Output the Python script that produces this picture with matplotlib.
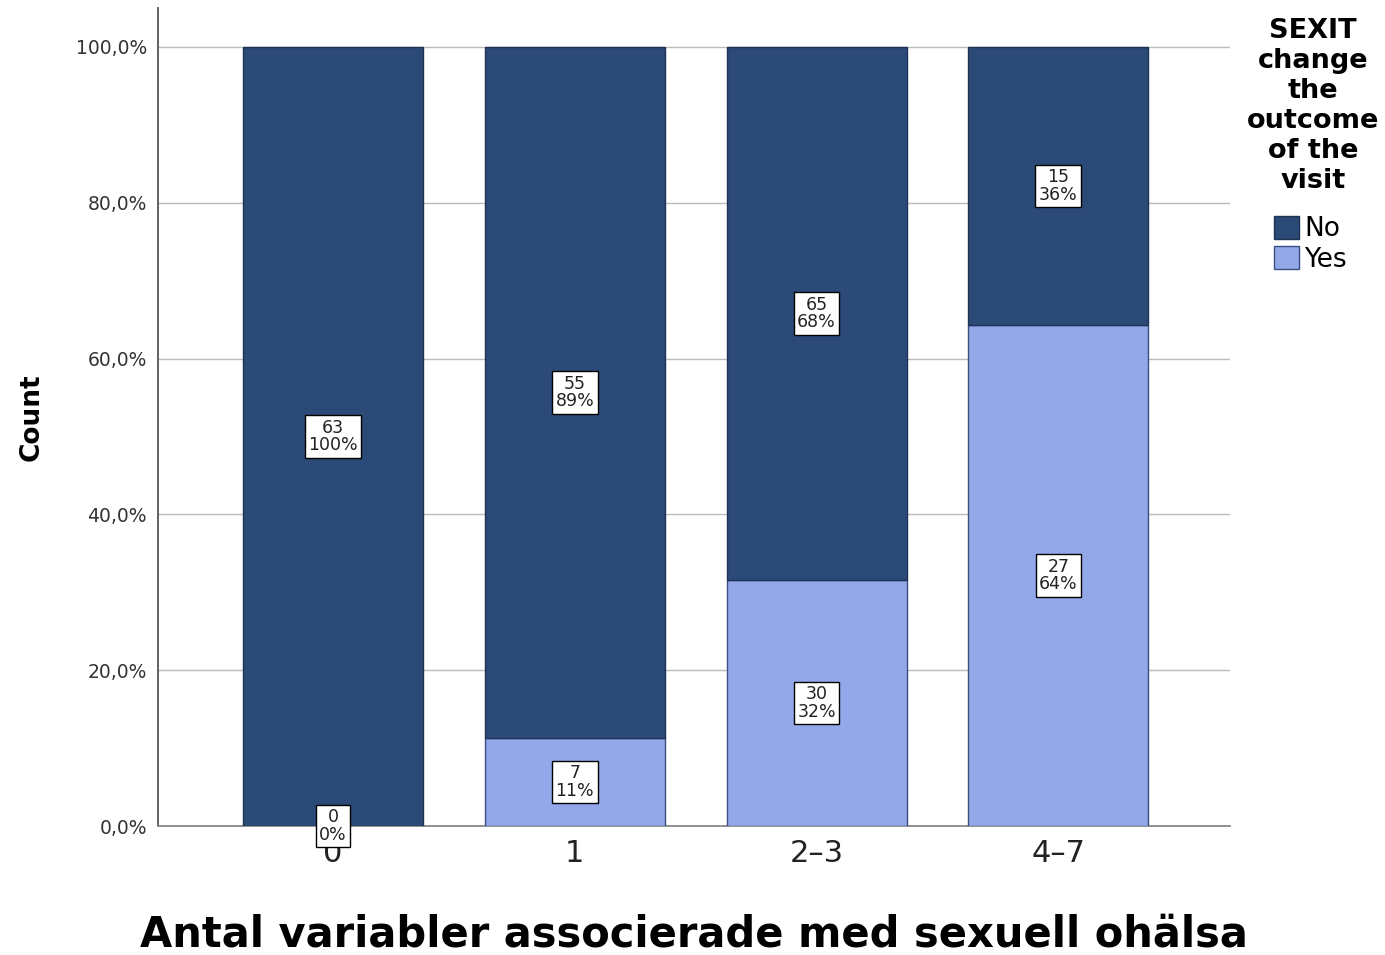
import numpy as np
import matplotlib
matplotlib.use('Agg')
import matplotlib.pyplot as plt
from matplotlib.patches import Patch

categories = ['0', '1', '2\u20133', '4\u20137']
count_no  = [63, 55, 65, 15]
count_yes = [0, 7, 30, 27]
pct_no  = [100, 89, 68, 36]
pct_yes = [0, 11, 32, 64]

col_no  = '#2b4a78'
col_yes = '#92a8e8'

no = np.array(count_no, dtype=float)
yes = np.array(count_yes, dtype=float)
total = no + yes
share_yes = yes / total * 100
share_no = no / total * 100

fig = plt.figure(figsize=(13.85, 9.55), dpi=100)
ax = fig.add_axes([158/1385, 1 - 826/955, (1230-158)/1385, (826-8)/955])

x = np.arange(len(categories))
w = 0.745
ax.bar(x, share_yes, w, color=col_yes, edgecolor='#3a4f80', linewidth=1.0, zorder=3)
ax.bar(x, share_no, w, bottom=share_yes, color=col_no, edgecolor='#1e3354', linewidth=1.0, zorder=3)

box = dict(boxstyle='square,pad=0.2', facecolor='white', edgecolor='black', linewidth=1.0)
for i in range(len(categories)):
    ax.text(x[i], share_yes[i] + share_no[i] / 2, '%d\n%d%%' % (count_no[i], pct_no[i]),
            ha='center', va='center', fontsize=12.5, linespacing=0.95, bbox=box, zorder=5, color='#222222')
    ax.text(x[i], share_yes[i] / 2, '%d\n%d%%' % (count_yes[i], pct_yes[i]),
            ha='center', va='center', fontsize=12.5, linespacing=0.95, bbox=box, zorder=5, color='#222222')

ax.set_xlim(-0.724, 3.71)
ax.set_ylim(0, 105)
ax.set_yticks([0, 20, 40, 60, 80, 100])
ax.set_yticklabels(['0,0%', '20,0%', '40,0%', '60,0%', '80,0%', '100,0%'], fontsize=13.5, color='#333333')
ax.set_xticks(x)
ax.set_xticklabels(categories, fontsize=22, color='#222222')
ax.tick_params(axis='both', length=0)
ax.tick_params(axis='y', pad=8)
ax.tick_params(axis='x', pad=9)
ax.grid(axis='y', color='#bbbbbb', linewidth=1.0, zorder=0)
ax.set_axisbelow(True)

for s in ['top', 'right']:
    ax.spines[s].set_visible(False)
ax.spines['left'].set_color('#555555')
ax.spines['bottom'].set_color('#888888')
ax.spines['left'].set_linewidth(1.3)
ax.spines['bottom'].set_linewidth(1.3)

ax.set_xlabel('Antal variabler associerade med sexuell ohälsa', fontsize=30, fontweight='bold')
ax.xaxis.set_label_coords(0.5, -0.107)
ax.set_ylabel('Count', fontsize=19, fontweight='bold')
ax.yaxis.set_label_coords(-0.106, 0.5)

fig.text(1313/1385, 1 - 18/955, 'SEXIT\nchange\nthe\noutcome\nof the\nvisit', ha='center', va='top',
         fontsize=19.5, fontweight='bold', linespacing=1.2)

handles = [Patch(facecolor=col_no, edgecolor='#1e3354', label='No'),
           Patch(facecolor=col_yes, edgecolor='#3a4f80', label='Yes')]
leg = fig.legend(handles=handles, loc='upper left', bbox_to_anchor=(1274/1385, 1 - 216/955), frameon=False,
                 fontsize=19, handlelength=0.95, handleheight=0.95,
                 handletextpad=0.2, labelspacing=0.15, borderpad=0, borderaxespad=0)

fig.savefig('out.png', dpi=100)
